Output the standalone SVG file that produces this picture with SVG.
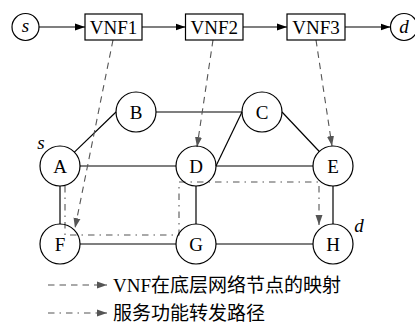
<svg xmlns="http://www.w3.org/2000/svg" width="415" height="322" viewBox="0 0 415 322">
<style>
  .n { fill: none; stroke: #000; stroke-width: 1.2; }
  .t { font-family: 'Liberation Serif', 'Times New Roman', 'DejaVu Serif', 'Noto Sans CJK SC', serif; font-size: 19px; fill: #000; text-anchor: middle; }
  .it { font-style: italic; }
  .e { stroke: #000; stroke-width: 1.2; fill: none; }
  .map { stroke: #555; stroke-width: 1.1; fill: none; stroke-dasharray: 6.5 5; }
  .sfp { stroke: #555; stroke-width: 1.1; fill: none; stroke-dasharray: 6.5 5 1.5 5; }
  .lg { font-family: 'Liberation Serif', 'Times New Roman', 'Noto Sans CJK SC', serif; font-size: 19px; fill: #000; }
</style>
<defs>
  <marker id="ab" markerWidth="11" markerHeight="8" refX="10" refY="4" orient="auto" markerUnits="userSpaceOnUse">
    <path d="M0,0.5 L10,4 L0,7.5 Z" fill="#000"/>
  </marker>
  <marker id="ag" markerWidth="11" markerHeight="8" refX="10" refY="4" orient="auto" markerUnits="userSpaceOnUse">
    <path d="M0,0.5 L10,4 L0,7.5 Z" fill="#555"/>
  </marker>
</defs>

<g id="connectors">
  <line class="e" x1="39" y1="27" x2="85" y2="27" marker-end="url(#ab)"/>
  <line class="e" x1="142" y1="27" x2="185.5" y2="27" marker-end="url(#ab)"/>
  <line class="e" x1="243" y1="27" x2="287" y2="27" marker-end="url(#ab)"/>
  <line class="e" x1="345" y1="27" x2="390.5" y2="27" marker-end="url(#ab)"/>
  <line class="e" x1="74.4" y1="152.1" x2="116" y2="112"/>
  <line class="e" x1="156" y1="112" x2="242" y2="112"/>
  <line class="e" x1="242" y1="112" x2="216" y2="166"/>
  <line class="e" x1="282" y1="112" x2="319.3" y2="151.5"/>
  <line class="e" x1="80" y1="166" x2="176" y2="166"/>
  <line class="e" x1="216" y1="166" x2="313" y2="166"/>
  <line class="e" x1="60" y1="186" x2="60" y2="224"/>
  <line class="e" x1="196" y1="186" x2="196" y2="224"/>
  <line class="e" x1="333" y1="186" x2="333" y2="224"/>
  <line class="e" x1="80" y1="244" x2="176" y2="244"/>
  <line class="e" x1="216" y1="244" x2="313" y2="244"/>
  <line class="map" x1="113" y1="40" x2="75" y2="228" marker-end="url(#ag)"/>
  <line class="map" x1="213" y1="40" x2="197" y2="147" marker-end="url(#ag)"/>
  <line class="map" x1="316" y1="40" x2="332" y2="146" marker-end="url(#ag)"/>
  <path class="sfp" d="M65,186 V235 H179 V182 H319 V225" marker-end="url(#ag)"/>
</g>

<g id="node-s"><circle class="n" cx="25.5" cy="27" r="13.5"/><text class="t it" x="25.5" y="32">s</text></g>
<g id="node-VNF1"><rect class="n" x="85" y="14" width="57" height="26"/><text class="t" x="113.5" y="33.5">VNF1</text></g>
<g id="node-VNF2"><rect class="n" x="185.5" y="14" width="57.5" height="26"/><text class="t" x="214.2" y="33.5">VNF2</text></g>
<g id="node-VNF3"><rect class="n" x="287" y="14" width="58" height="26"/><text class="t" x="316" y="33.5">VNF3</text></g>
<g id="node-d"><circle class="n" cx="404" cy="27" r="13.5"/><text class="t it" x="404" y="33">d</text></g>

<g id="node-A"><circle class="n" cx="60" cy="166" r="20"/><text class="t" x="60" y="172.5">A</text></g>
<g id="node-B"><circle class="n" cx="136" cy="112" r="20"/><text class="t" x="136" y="118.5">B</text></g>
<g id="node-C"><circle class="n" cx="262" cy="112" r="20"/><text class="t" x="262" y="118.5">C</text></g>
<g id="node-D"><circle class="n" cx="196" cy="166" r="20"/><text class="t" x="196" y="172.5">D</text></g>
<g id="node-E"><circle class="n" cx="333" cy="166" r="20"/><text class="t" x="333" y="172.5">E</text></g>
<g id="node-F"><circle class="n" cx="60" cy="244" r="20"/><text class="t" x="60" y="250.5">F</text></g>
<g id="node-G"><circle class="n" cx="196" cy="244" r="20"/><text class="t" x="196" y="250.5">G</text></g>
<g id="node-H"><circle class="n" cx="333" cy="244" r="20"/><text class="t" x="333" y="250.5">H</text></g>

<text class="t it" x="41" y="149">s</text>
<text class="t it" x="359" y="232">d</text>

<g id="legend">
  <line class="map" x1="48" y1="285" x2="107" y2="285" marker-end="url(#ag)"/>
  <text class="lg" x="113" y="291.5">VNF在底层网络节点的映射</text>
  <line class="sfp" x1="48" y1="313" x2="107" y2="313" marker-end="url(#ag)"/>
  <text class="lg" x="113" y="319.5">服务功能转发路径</text>
</g>
</svg>
